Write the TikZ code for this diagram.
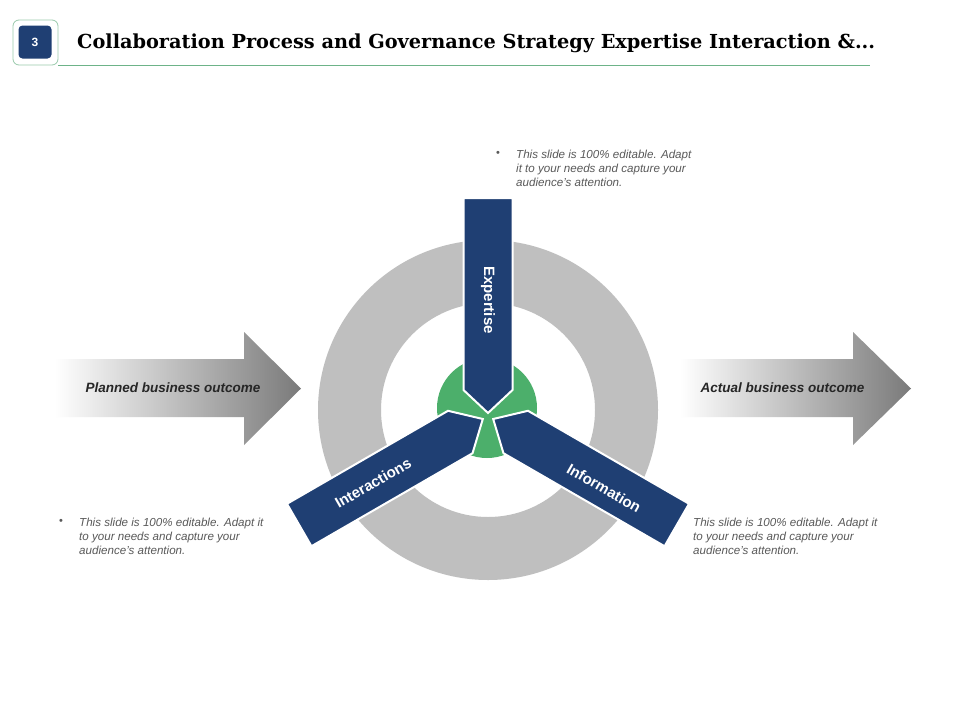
\documentclass[tikz,border=0pt]{standalone}
\usepackage{fontspec}
\setmainfont{Liberation Sans}
\newfontfamily\titlefont{DejaVu Serif}
\definecolor{ringgray}{HTML}{BFBFBF}
\definecolor{navy}{HTML}{1F3F73}
\definecolor{leaf}{HTML}{4CAF6B}
\definecolor{txtgray}{HTML}{595959}
\definecolor{linegreen}{HTML}{6DB388}
\definecolor{arrowgray}{HTML}{7A7A7A}
\tikzset{
  bar/.style={fill=navy, draw=white, line width=2pt, line join=miter},
  barlabel/.style={text=white, font=\bfseries\fontsize{15}{17}\selectfont, inner sep=0pt},
  bodytext/.style={text=txtgray, font=\itshape\fontsize{11.6}{14}\selectfont, align=left, inner sep=0pt, anchor=north west},
  bulletmark/.style={text=txtgray, font=\fontsize{11}{14}\selectfont, inner sep=0pt},
  arrowlabel/.style={text=black!85, font=\bfseries\itshape\fontsize{13.5}{15}\selectfont, inner sep=0pt}
}
\begin{document}
\begin{tikzpicture}[x=1pt,y=-1pt]
\useasboundingbox (0,0) rectangle (960,720);
\fill[white] (0,0) rectangle (960,720);
% title
\draw[linegreen, line width=0.6pt] (58,65) -- (870,65);
\draw[linegreen!70, line width=0.8pt, rounded corners=6pt, fill=white] (13,20) rectangle (58,65);
\node[fill=navy, rounded corners=4pt, minimum width=33pt, minimum height=33pt, inner sep=0pt, text=white, font=\bfseries\fontsize{12}{14}\selectfont] (num) at (35,42) {3};
\node[anchor=west, inner sep=0pt, font=\titlefont\bfseries\fontsize{19.3}{22}\selectfont] (title) at (77,43) {Collaboration Process and Governance Strategy Expertise Interaction \&...};
% ring
\fill[ringgray, even odd rule] (488,410) circle (170pt) (488,410) circle (107pt);
% green centre
\fill[leaf] (487,408) circle (50pt);
% arrows
\shade[left color=white, right color=arrowgray] (55,359) -- (244,359) -- (244,332) -- (301,388.5) -- (244,445) -- (244,417) -- (55,417) -- cycle;
\shade[left color=white, right color=arrowgray] (680,359) -- (853,359) -- (853,332) -- (911,388.5) -- (853,445) -- (853,417) -- (680,417) -- cycle;
\node[arrowlabel] (planned) at (173,388) {Planned business outcome};
\node[arrowlabel] (actual) at (782.5,388) {Actual business outcome};
% bars
\begin{scope}[shift={(488,416)}]
  \path[bar] (-24.5,-218) -- (24.5,-218) -- (24.5,-26) -- (0,-3) -- (-24.5,-26) -- cycle;
\end{scope}
\foreach \ang in {120,-120}{
  \begin{scope}[shift={(488,416)}, rotate=\ang]
    \path[bar] (-24.5,-218) -- (24.5,-218) -- (24.5,-32) -- (0,-6) -- (-24.5,-32) -- cycle;
  \end{scope}
}
\node[barlabel, rotate=-90] (expertise) at (488,300) {Expertise};
\node[barlabel, rotate=30] (interactions) at (373,483) {Interactions};
\node[barlabel, rotate=-30] (information) at (604,488) {Information};
% body texts
\node[bulletmark] (b1) at (498,154) {•};
\node[bodytext] (t1) at (516,150) {This slide is 100\% editable. Adapt\\it to your needs and capture your\\audience’s attention.};
\node[bulletmark] (b2) at (61,522) {•};
\node[bodytext] (t2) at (79,518) {This slide is 100\% editable. Adapt it\\to your needs and capture your\\audience’s attention.};
\node[bodytext] (t3) at (693,518) {This slide is 100\% editable. Adapt it\\to your needs and capture your\\audience’s attention.};
\end{tikzpicture}
\end{document}
